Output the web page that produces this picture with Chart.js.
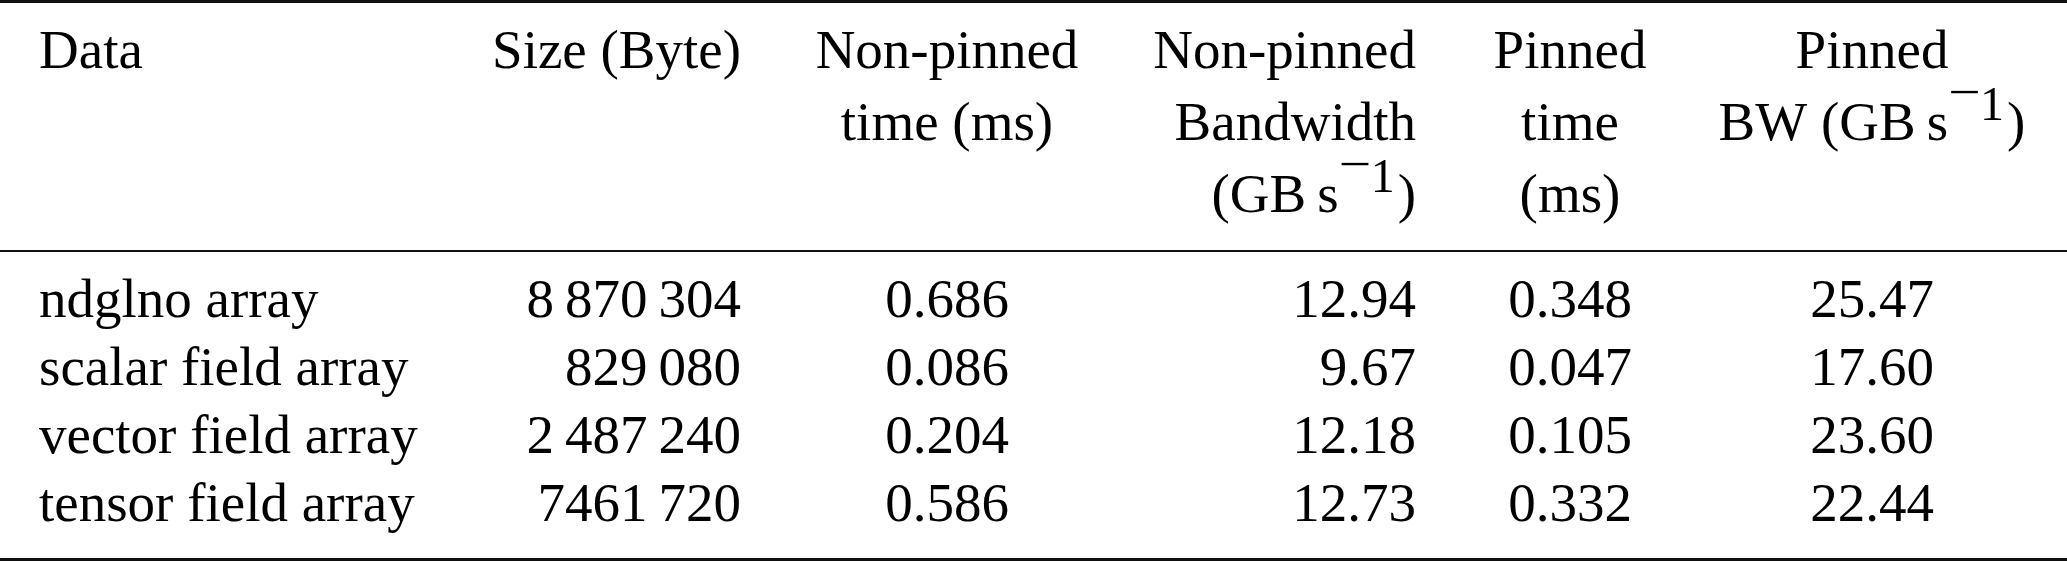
<!DOCTYPE html>
<html><head><meta charset="utf-8">
<style>html,body{margin:0;padding:0;background:#fff;}#wrap{width:2067px;height:562px;position:relative;}</style>
<script src="https://cdn.jsdelivr.net/npm/chart.js@4"></script>
</head><body><div id="wrap"><canvas id="c"></canvas></div>
<script>
// ---- data ----
const headerLines = [
  ["Data"],
  ["Size (Byte)"],
  ["Non-pinned", "time (ms)"],
  ["Non-pinned", "Bandwidth", "(GB\u2009s^{\u22121})"],
  ["Pinned", "time", "(ms)"],
  ["Pinned", "BW (GB\u2009s^{\u22121})"]
];
const rowLabels = ["ndglno array", "scalar field array", "vector field array", "tensor field array"];
const sizeBytes = ["8\u2009870\u2009304", "829\u2009080", "2\u2009487\u2009240", "7461\u2009720"];
const nonPinnedTime = [0.686, 0.086, 0.204, 0.586];
const nonPinnedBW = [12.94, 9.67, 12.18, 12.73];
const pinnedTime = [0.348, 0.047, 0.105, 0.332];
const pinnedBW = [25.47, 17.60, 23.60, 22.44];

// ---- layout (table geometry in layout units = px) ----
const colAnchor = [39, 741, 947, 1416, 1570, 1872];
const colAlign = ['left', 'right', 'center', 'right', 'center', 'center'];
const headerBaseline = [68, 140, 212];
const rowBaseline = [317, 385, 453, 521];
const ruleY = [1.5, 251, 559.5];
const ruleW = [3, 2, 3];
const FONT = 55;
const SUP = 48;          // superscript font size
const SUP_RAISE = 20;    // digit raise
const MINUS_RAISE = 32;  // minus raise
const MINUS_STRETCH = 1.2;
const FAMILY = '"Liberation Serif", "Times New Roman", serif';

const columnsText = [
  rowLabels,
  sizeBytes,
  nonPinnedTime.map(v => v.toFixed(3)),
  nonPinnedBW.map(v => v.toFixed(2)),
  pinnedTime.map(v => v.toFixed(3)),
  pinnedBW.map(v => v.toFixed(2))
];

const datasets = [];
columnsText.forEach((vals, c) => {
  const pts = [];
  headerLines[c].forEach((t, k) => pts.push({x: colAnchor[c], y: headerBaseline[k], text: t}));
  vals.forEach((t, r) => pts.push({x: colAnchor[c], y: rowBaseline[r], text: t}));
  datasets.push({type: 'scatter', data: pts, pointRadius: 0, align: colAlign[c], isText: true});
});
ruleY.forEach((y, i) => {
  datasets.push({type: 'scatter', data: [{x: 0, y: y}, {x: 2067, y: y}], showLine: true,
    borderColor: '#111', borderWidth: ruleW[i], pointRadius: 0, isText: false});
});

function parseRich(t) {
  const segs = [];
  const re = /\^\{([^}]*)\}/g;
  let last = 0, m;
  while ((m = re.exec(t)) !== null) {
    if (m.index > last) segs.push({s: t.slice(last, m.index), sup: false});
    const chars = [...m[1]];
    chars.forEach((ch, k) => segs.push({s: ch, sup: true, lastSup: k === chars.length - 1}));
    last = re.lastIndex;
  }
  if (last < t.length) segs.push({s: t.slice(last), sup: false});
  return segs;
}

const textPlugin = {
  id: 'tableText',
  afterDatasetsDraw(chart) {
    const ctx = chart.ctx;
    ctx.save();
    ctx.fillStyle = '#000';
    ctx.textBaseline = 'alphabetic';
    ctx.textAlign = 'left';
    chart.data.datasets.forEach((ds, i) => {
      if (!ds.isText) return;
      const meta = chart.getDatasetMeta(i);
      meta.data.forEach((el, j) => {
        const segs = parseRich(ds.data[j].text);
        let w = 0;
        segs.forEach(sg => {
          ctx.font = (sg.sup ? SUP : FONT) + 'px ' + FAMILY;
          sg.isMinus = sg.sup && sg.s === '\u2212';
          sg.w = ctx.measureText(sg.s).width + (sg.isMinus ? 5 : 0) + (sg.lastSup ? 3 : 0);
          w += sg.w;
        });
        let x = el.x;
        if (ds.align === 'right') x -= w;
        else if (ds.align === 'center') x -= w / 2;
        segs.forEach(sg => {
          ctx.font = (sg.sup ? SUP : FONT) + 'px ' + FAMILY;
          if (sg.isMinus) {
            ctx.save();
            ctx.translate(x, el.y - MINUS_RAISE);
            ctx.scale(MINUS_STRETCH, 1);
            ctx.fillText(sg.s, 0, 0);
            ctx.restore();
          } else {
            ctx.fillText(sg.s, x, el.y - (sg.sup ? SUP_RAISE : 0));
          }
          x += sg.w;
        });
      });
    });
    ctx.restore();
  }
};

new Chart(document.getElementById('c'), {
  type: 'scatter',
  data: {datasets},
  options: {
    responsive: true,
    maintainAspectRatio: false,
    animation: false,
    devicePixelRatio: 1,
    events: [],
    layout: {padding: 0},
    plugins: {legend: {display: false}, tooltip: {enabled: false}},
    scales: {
      x: {type: 'linear', min: 0, max: 2067, display: false},
      y: {type: 'linear', min: 0, max: 562, reverse: true, display: false}
    }
  },
  plugins: [textPlugin]
});
</script>
</body></html>
